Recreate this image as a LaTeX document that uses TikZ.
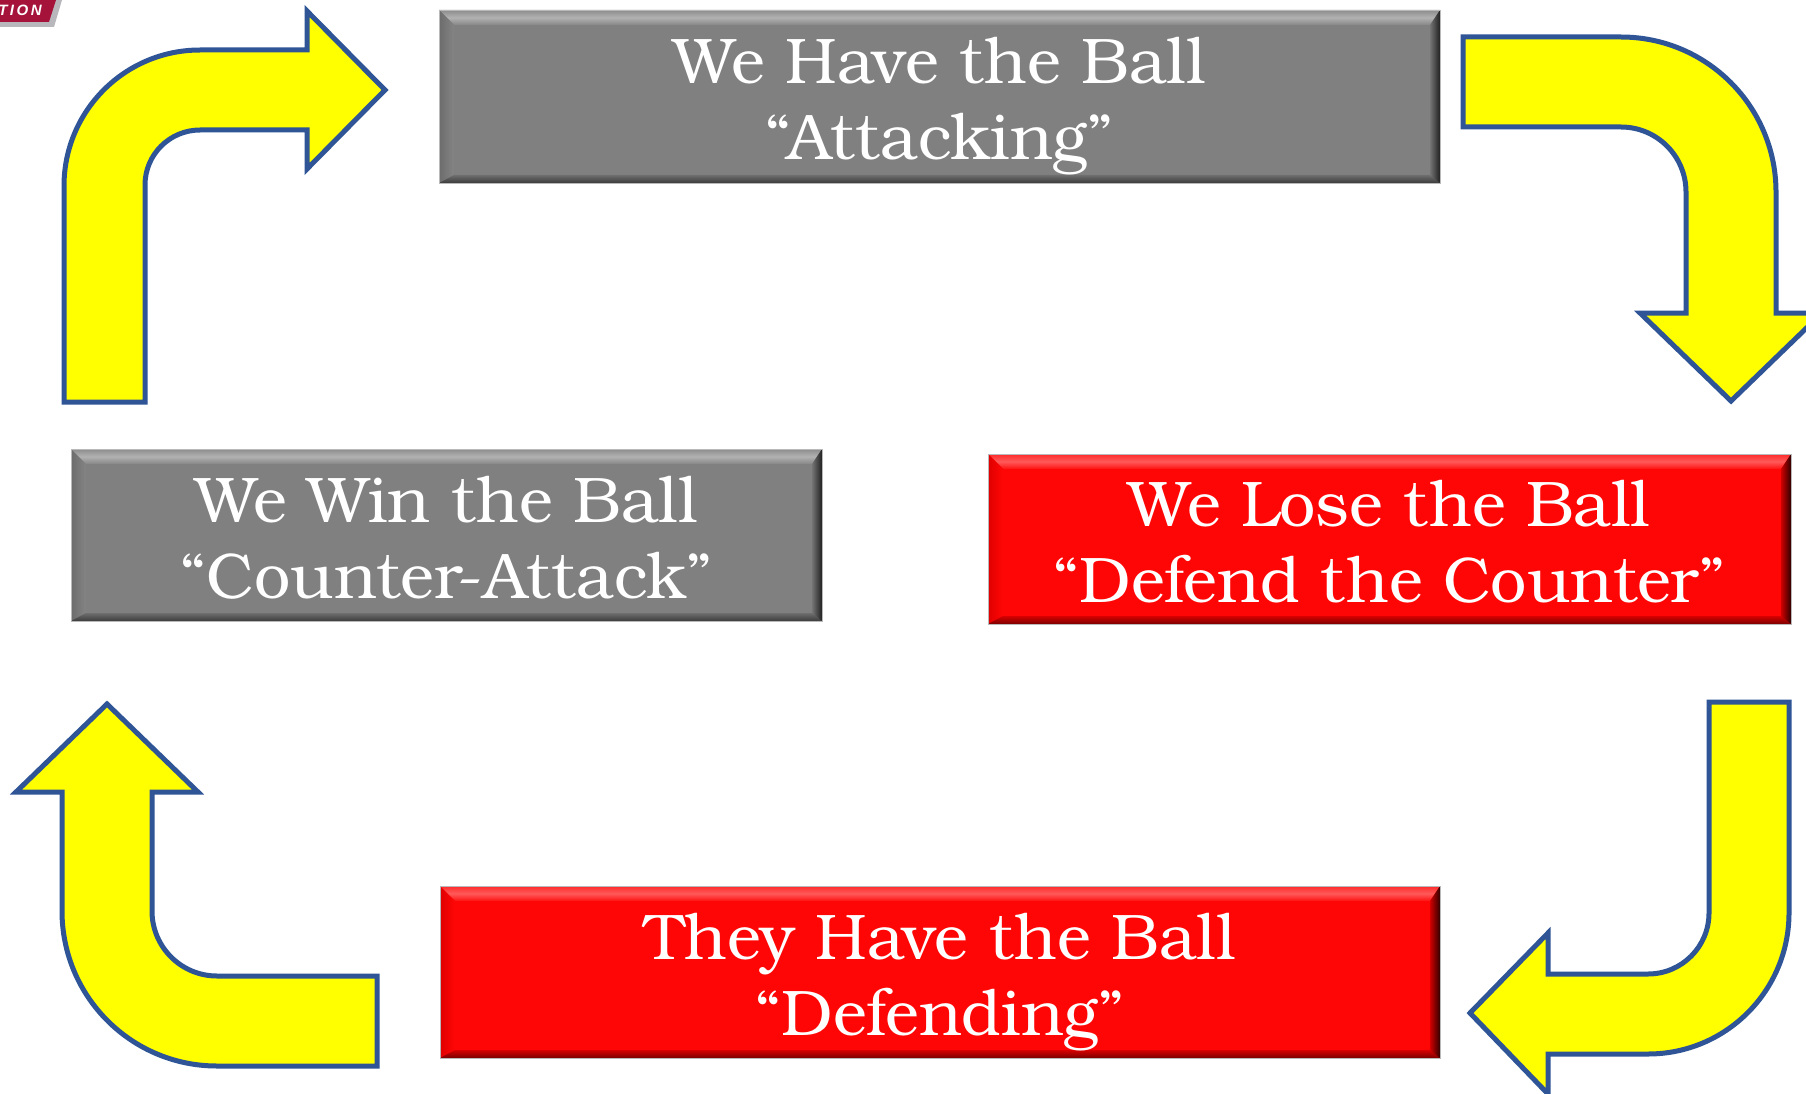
\documentclass[tikz,border=0pt]{standalone}
\usepackage{fontspec}
\setmainfont{TeX Gyre Bonum}
\newfontfamily\logofont{Liberation Sans}
\definecolor{arrowfill}{HTML}{FFFF00}
\definecolor{arrowline}{HTML}{2F5597}
\definecolor{boxgray}{HTML}{808080}
\definecolor{boxred}{HTML}{FF0606}
\definecolor{logored}{HTML}{A5123A}
\definecolor{logogray}{HTML}{B8B8BC}
% gray bevel colours
\definecolor{gT1}{HTML}{8C8C8C}
\definecolor{gT2}{HTML}{B2B2B2}
\definecolor{gT3}{HTML}{868686}
\definecolor{gL1}{HTML}{6C6C6C}
\definecolor{gL2}{HTML}{848484}
\definecolor{gB1}{HTML}{3C3C3C}
\definecolor{gB2}{HTML}{6E6E6E}
\definecolor{gR1}{HTML}{202020}
\definecolor{gR2}{HTML}{747474}
% red bevel colours
\definecolor{rT1}{HTML}{FF2A2A}
\definecolor{rT2}{HTML}{FF5A5A}
\definecolor{rT3}{HTML}{FF1010}
\definecolor{rL1}{HTML}{E00000}
\definecolor{rL2}{HTML}{FF0606}
\definecolor{rB1}{HTML}{7A0000}
\definecolor{rB2}{HTML}{D80000}
\definecolor{rR1}{HTML}{300000}
\definecolor{rR2}{HTML}{D00000}
\tikzset{
  bentarrow/.style={fill=arrowfill, draw=arrowline, line width=5pt, line join=miter},
  boxbase/.style={rectangle, inner sep=0pt, outer sep=0pt},
  graybox/.style={boxbase, fill=boxgray},
  redbox/.style={boxbase, fill=boxred},
  boxtext/.style={text=white, font=\fontsize{64.5}{76}\selectfont, anchor=base, inner sep=0pt},
}
\newcommand\drawbevel[2]{%
  \path[top color=#2T1, bottom color=#2T3, middle color=#2T2]
    (#1.north west) -- (#1.north east) -- ([shift={(-10,-15)}]#1.north east)
    -- ([shift={(15,-15)}]#1.north west) -- cycle;
  \path[left color=#2L1, right color=#2L2]
    (#1.north west) -- ([shift={(15,-15)}]#1.north west)
    -- ([shift={(15,8)}]#1.south west) -- (#1.south west) -- cycle;
  \path[bottom color=#2B1, top color=#2B2]
    (#1.south west) -- ([shift={(15,8)}]#1.south west)
    -- ([shift={(-10,8)}]#1.south east) -- (#1.south east) -- cycle;
  \path[right color=#2R1, left color=#2R2]
    (#1.south east) -- ([shift={(-10,8)}]#1.south east)
    -- ([shift={(-10,-15)}]#1.north east) -- (#1.north east) -- cycle;
  \draw[gray!55, line width=0.8pt] (#1.north west) rectangle (#1.south east);
}
\begin{document}
\begin{tikzpicture}[x=1pt, y=1pt]
\path[use as bounding box] (0,0) rectangle (1806,-1094);
\clip (0,0) rectangle (1806,-1094);
\fill[white] (0,0) rectangle (1806,-1094);

% logo fragment
\fill[logogray] (0,0) -- (62,0) -- (54,-27) -- (0,-27) -- cycle;
\fill[logored] (0,0) -- (56,0) -- (49,-22) -- (0,-22) -- cycle;
\node[text=white, font=\logofont\bfseries\itshape\fontsize{15}{15}\selectfont, inner sep=0pt] (logo) at (20,-10) {T\,I\,O\,N};

% boxes
\node[graybox, minimum width=1001pt, minimum height=173pt] (attack) at (939.5,-96.5) {};
\node[graybox, minimum width=751pt, minimum height=172pt] (win) at (446.5,-535) {};
\node[redbox, minimum width=803pt, minimum height=170pt] (lose) at (1389.5,-539) {};
\node[redbox, minimum width=1000pt, minimum height=172pt] (defend) at (940,-972) {};
\drawbevel{attack}{g}
\drawbevel{win}{g}
\drawbevel{lose}{r}
\drawbevel{defend}{r}

% texts
\node[boxtext] (attackA) at ([yshift=13pt]attack.center) {We Have the Ball};
\node[boxtext] (attackB) at ([yshift=-63pt]attack.center) {“Attacking”};
\node[boxtext] (winA) at ([yshift=13pt]win.center) {We Win the Ball};
\node[boxtext] (winB) at ([yshift=-63pt]win.center) {“Counter-Attack”};
\node[boxtext] (loseA) at ([yshift=13pt]lose.center) {We Lose the Ball};
\node[boxtext] (loseB) at ([yshift=-63pt]lose.center) {“Defend the Counter”};
\node[boxtext] (defendA) at ([yshift=13pt]defend.center) {They Have the Ball};
\node[boxtext] (defendB) at ([yshift=-63pt]defend.center) {“Defending”};

% arrow: up then right (top-left)
\draw[bentarrow] (64,-402) -- (64,-186) arc[start angle=180, end angle=90, radius=136]
  -- (307,-50) -- (307,-11) -- (385,-90) -- (307,-169) -- (307,-130) -- (200,-130)
  arc[start angle=90, end angle=180, radius=55] -- (145,-402) -- cycle;

% arrow: right then down (top-right)
\draw[bentarrow] (1463,-37) -- (1621,-37) arc[start angle=90, end angle=0, radius=155]
  -- (1776,-313) -- (1822,-313) -- (1731,-401) -- (1640,-313) -- (1686,-313) -- (1686,-192)
  arc[start angle=0, end angle=90, radius=65] -- (1463,-127) -- cycle;

% arrow: down then left (bottom-right)
\draw[bentarrow] (1709,-702) -- (1789,-702) -- (1789,-913)
  arc[start angle=0, end angle=-90, radius=141]
  -- (1548,-1054) -- (1548,-1094) -- (1470,-1013) -- (1548,-933) -- (1548,-974) -- (1648,-974)
  arc[start angle=-90, end angle=0, radius=61] -- cycle;

% arrow: left then up (bottom-left)
\draw[bentarrow] (377,-976) -- (217,-976) arc[start angle=270, end angle=180, radius=65]
  -- (152,-792) -- (198,-792) -- (107,-704) -- (16,-792) -- (62,-792) -- (62,-911)
  arc[start angle=180, end angle=270, radius=155] -- (377,-1066) -- cycle;
\end{tikzpicture}
\end{document}
